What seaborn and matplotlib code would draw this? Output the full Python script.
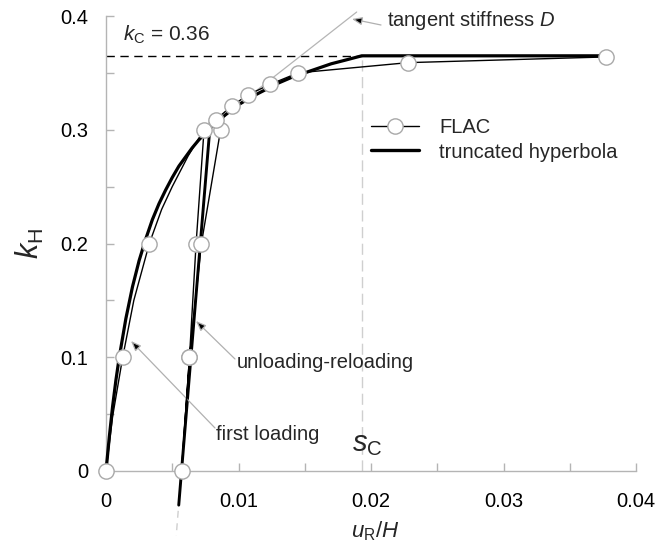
import matplotlib
matplotlib.use("Agg")
import matplotlib.pyplot as plt
import seaborn as sns
import pandas as pd
from matplotlib.ticker import MultipleLocator
from matplotlib.lines import Line2D

# ---------------- data ----------------
# FLAC curve (thin); is_pt marks the points drawn with an open circle
flac_s = [0.0, 0.0005, 0.00126, 0.0021, 0.00327, 0.0042, 0.0050, 0.0062, 0.0074,
          0.0068, 0.0063, 0.0057, 0.0063, 0.0072,
          0.00865, 0.0083, 0.0095, 0.0107, 0.0124, 0.0145, 0.0228, 0.0377]
flac_k = [0.0, 0.048, 0.1, 0.15, 0.2, 0.23, 0.25, 0.277, 0.30,
          0.2, 0.1, 0.0, 0.1, 0.2,
          0.30, 0.309, 0.321, 0.3305, 0.34, 0.35, 0.359, 0.364]
is_pt = [1, 0, 1, 0, 1, 0, 0, 0, 1,
         1, 1, 1, 1, 1,
         1, 1, 1, 1, 1, 1, 1, 1]

hyp_s = [0.0, 0.00025, 0.0005, 0.00075, 0.001, 0.0015, 0.002, 0.0025, 0.003, 0.0035,
         0.004, 0.0045, 0.005, 0.0055, 0.006, 0.0065, 0.007, 0.0075, 0.008, 0.009,
         0.010, 0.011, 0.012, 0.013, 0.014, 0.015, 0.016, 0.017, 0.018, 0.0193, 0.0377]
hyp_k = [0.0, 0.030, 0.057, 0.080, 0.100, 0.134, 0.162, 0.185, 0.204, 0.221,
         0.235, 0.247, 0.258, 0.268, 0.276, 0.284, 0.291, 0.297, 0.303, 0.313,
         0.322, 0.329, 0.335, 0.341, 0.346, 0.350, 0.354, 0.358, 0.361, 0.365, 0.365]

ur_s = [0.00549, 0.0057, 0.0079]
ur_k = [-0.03, 0.0, 0.31]

tangent_s = [0.0090, 0.01892]
tangent_k = [0.313, 0.4035]

k_c = 0.365
s_c = 0.0193

x_ticks = [0, 0.01, 0.02, 0.03, 0.04]
x_ticklabels = ["0", "0.01", "0.02", "0.03", "0.04"]
y_ticks = [0, 0.1, 0.2, 0.3, 0.4]
y_ticklabels = ["0", "0.1", "0.2", "0.3", "0.4"]

# ---------------- style ----------------
sns.set_theme(style="white")
spine_c = "#b4b4b4"
plt.rcParams.update({
    "font.family": ["Liberation Sans", "DejaVu Sans"],
    "mathtext.fontset": "custom",
    "mathtext.rm": "Liberation Sans",
    "mathtext.it": "Liberation Sans:italic",
    "mathtext.bf": "Liberation Sans:bold",
})

fig = plt.figure(figsize=(6.57, 5.47), dpi=100)
ax = fig.add_axes([106/657, 1-471/547, (636-106)/657, (471-16)/547])

flac_df = pd.DataFrame({"s": flac_s, "k": flac_k})
hyp_df = pd.DataFrame({"s": hyp_s, "k": hyp_k})
ur_df = pd.DataFrame({"s": ur_s, "k": ur_k})

# reference lines
ax.plot([0, s_c], [k_c, k_c], color="black", lw=1.0, ls=(0, (6, 4)), zorder=2)
ax.plot([s_c, s_c], [0, k_c], color="#cfcfcf", lw=1.0, ls=(0, (8, 4)), zorder=1)
ax.plot(tangent_s, tangent_k, color="#b5b5b5", lw=0.9, zorder=2, clip_on=False)
ax.plot([0.00545, 0.0053], [-0.035, -0.057], color="#cfcfcf", lw=1.0,
        ls=(0, (5, 4)), clip_on=False)

# truncated hyperbola (thick)
sns.lineplot(data=hyp_df, x="s", y="k", ax=ax, sort=False, estimator=None,
             color="black", lw=2.3, zorder=3)
sns.lineplot(data=ur_df, x="s", y="k", ax=ax, sort=False, estimator=None,
             color="black", lw=2.1, zorder=3)

# FLAC (thin with open circles)
mark_idx = [i for i, p in enumerate(is_pt) if p]
sns.lineplot(data=flac_df, x="s", y="k", ax=ax, sort=False, estimator=None,
             color="black", lw=1.0, marker="o", markersize=11, markevery=mark_idx,
             markerfacecolor="white", markeredgecolor="#a8a8a8",
             markeredgewidth=1.0, zorder=5)
for ln in ax.lines:
    ln.set_clip_on(False)
if ax.get_legend():
    ax.get_legend().remove()

ax.set_xlim(0, 0.04)
ax.set_ylim(0, 0.4)

ax.set_xticks(x_ticks)
ax.set_xticklabels(x_ticklabels)
ax.set_yticks(y_ticks)
ax.set_yticklabels(y_ticklabels)
ax.xaxis.set_minor_locator(MultipleLocator(0.005))
ax.yaxis.set_minor_locator(MultipleLocator(0.05))

for sp in ["top", "right"]:
    ax.spines[sp].set_visible(False)
for sp in ["left", "bottom"]:
    ax.spines[sp].set_color(spine_c)
    ax.spines[sp].set_linewidth(1.0)

ax.tick_params(axis="both", which="both", direction="in", length=6,
               color=spine_c, width=1.0, labelsize=14.5, labelcolor="black",
               bottom=True, left=True, top=False, right=False)
ax.tick_params(axis="y", which="both", pad=13)
ax.tick_params(axis="x", which="both", pad=15)

ax.set_xlabel("")
ax.set_ylabel("")
fig.text(375/657, 1-531/547, r"$u_\mathrm{R}/H$", fontsize=16, ha="center", va="center")
fig.text(30/657, 1-244/547, r"$k_\mathrm{H}$", fontsize=22, ha="center", va="center",
         rotation=90)

# annotations
ax.text(0.00130, 0.383, r"$k_\mathrm{C}$ = 0.36", fontsize=15, ha="left", va="center")
ax.text(s_c - 0.0007, 0.024, r"$s_\mathrm{C}$", fontsize=21, ha="left", va="center")

def px(x, y):
    return ((x - 106) / 13250.0, (471 - y) / 1137.5)

arrow_kw = dict(arrowstyle="-|>,head_length=0.5,head_width=0.2",
                lw=0.9, shrinkA=0, shrinkB=0, fc="black", ec="#b0b0b0")

ax.annotate("", xy=px(352, 19), xytext=px(381, 25), arrowprops=arrow_kw,
            annotation_clip=False)
ax.text(*px(387, 21), r"tangent stiffness $D$", fontsize=14.5, ha="left", va="center")

ax.annotate("", xy=px(196, 321), xytext=px(235, 359), arrowprops=arrow_kw)
ax.text(*px(237, 362), "unloading-reloading", fontsize=14.5, ha="left", va="center")

ax.annotate("", xy=px(131, 341), xytext=px(215, 428), arrowprops=arrow_kw)
ax.text(*px(216, 434), "first loading", fontsize=14.5, ha="left", va="center")

# legend
h1 = Line2D([], [], color="black", lw=1.0, marker="o", markersize=11,
            markerfacecolor="white", markeredgecolor="#a8a8a8", markeredgewidth=1.0)
h2 = Line2D([], [], color="black", lw=2.4)
fig.legend([h1, h2], ["FLAC", "truncated hyperbola"], loc="center left",
           bbox_to_anchor=(371/657, 1-140/547), frameon=False, fontsize=14.5,
           handlelength=2.4, handletextpad=1.0, labelspacing=0.25,
           borderpad=0, borderaxespad=0)

fig.savefig("out.png", dpi=100)
